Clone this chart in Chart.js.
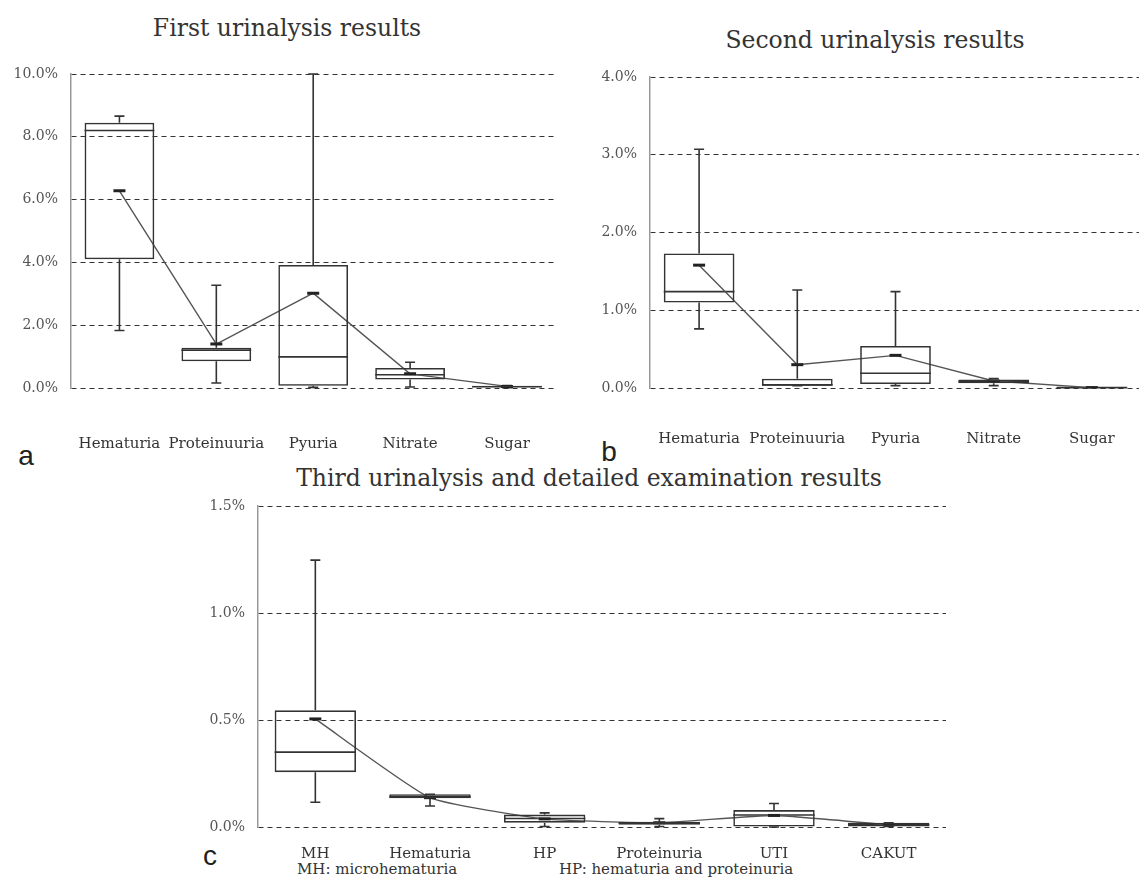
<!DOCTYPE html>
<html>
<head>
<meta charset="utf-8">
<script src="https://cdn.jsdelivr.net/npm/chart.js@4/dist/chart.umd.min.js"></script>
<style>
html, body { margin: 0; padding: 0; background: #fff; overflow: hidden; }
body { position: relative; width: 1139px; height: 877px; }
canvas { position: absolute; }
.title { position: absolute; font-family: 'DejaVu Serif', serif; font-size: 23.5px; color: #333; white-space: nowrap; transform: translate(-50%, -50%); }
.tag { position: absolute; font-family: 'Liberation Sans', Arial, sans-serif; font-size: 28px; color: #222; transform: translate(-50%, -50%); }
.note { position: absolute; font-family: 'DejaVu Serif', serif; font-size: 15px; color: #333; white-space: nowrap; transform: translateY(-50%); }
</style>
</head>
<body>
<div class="title" style="left:287px;top:28px">First urinalysis results</div>
<div class="title" style="left:875px;top:40px">Second urinalysis results</div>
<div class="title" style="left:589px;top:478px">Third urinalysis and detailed examination results</div>
<div class="tag" style="left:26px;top:456px">a</div>
<div class="tag" style="left:609px;top:452px">b</div>
<div class="tag" style="left:210px;top:856px">c</div>
<div class="note" style="left:297px;top:869px">MH: microhematuria</div>
<div class="note" style="left:559px;top:869px">HP: hematuria and proteinuria</div>

<canvas id="chartA" width="570" height="460" style="left:0px;top:0px"></canvas>
<canvas id="chartB" width="580" height="460" style="left:570px;top:0px"></canvas>
<canvas id="chartC" width="770" height="437" style="left:190px;top:440px"></canvas>

<script>
// values in percent
const firstLabels = ['Hematuria', 'Proteinuuria', 'Pyuria', 'Nitrate', 'Sugar'];
const firstMin    = [1.83, 0.16, 0.02, 0.03, 0.01];
const firstQ1     = [4.10, 0.85, 0.07, 0.27, 0.02];
const firstMedian = [8.20, 1.20, 0.99, 0.42, 0.04];
const firstQ3     = [8.45, 1.28, 3.92, 0.64, 0.07];
const firstMax    = [8.66, 3.27, 10.0, 0.82, 0.08];
const firstMean   = [6.28, 1.40, 3.02, 0.45, 0.05];

const secondLabels = ['Hematuria', 'Proteinuuria', 'Pyuria', 'Nitrate', 'Sugar'];
const secondMin    = [0.76, 0.03, 0.03, 0.03, 0.000];
const secondQ1     = [1.10, 0.03, 0.05, 0.06, 0.000];
const secondMedian = [1.24, 0.04, 0.19, 0.08, 0.005];
const secondQ3     = [1.73, 0.12, 0.54, 0.11, 0.010];
const secondMax    = [3.07, 1.26, 1.24, 0.12, 0.010];
const secondMean   = [1.58, 0.30, 0.42, 0.09, 0.005];

const thirdLabels = ['MH', 'Hematuria', 'HP', 'Proteinuria', 'UTI', 'CAKUT'];
const thirdMin    = [0.116, 0.098, 0.002, 0.002, 0.000, 0.002];
const thirdQ1     = [0.256, 0.134, 0.020, 0.010, 0.000, 0.002];
const thirdMedian = [0.350, 0.141, 0.040, 0.018, 0.056, 0.010];
const thirdQ3     = [0.545, 0.153, 0.058, 0.025, 0.079, 0.020];
const thirdMax    = [1.247, 0.153, 0.066, 0.039, 0.110, 0.020];
const thirdMean   = [0.505, 0.137, 0.038, 0.020, 0.054, 0.010];

const INK = '#333';

// whiskers, caps and median lines, placed with the chart's own scales
const boxWhiskers = {
  id: 'boxWhiskers',
  beforeDatasetsDraw(chart, args, opts) {
    const {ctx} = chart;
    const y = chart.scales.y;
    const bars = chart.getDatasetMeta(0).data;
    ctx.save();
    ctx.strokeStyle = INK;
    ctx.lineWidth = 1.6;
    bars.forEach((bar, i) => {
      const x = bar.x;
      const half = bar.width / 2;
      const yMin = y.getPixelForValue(opts.min[i]);
      const yMax = y.getPixelForValue(opts.max[i]);
      const yQ1 = y.getPixelForValue(opts.q1[i]);
      const yQ3 = y.getPixelForValue(opts.q3[i]);
      const yMed = y.getPixelForValue(opts.median[i]);
      ctx.beginPath();
      ctx.moveTo(x, yQ3); ctx.lineTo(x, yMax);
      ctx.moveTo(x - 5, yMax); ctx.lineTo(x + 5, yMax);
      ctx.moveTo(x, yQ1); ctx.lineTo(x, yMin);
      ctx.moveTo(x - 5, yMin); ctx.lineTo(x + 5, yMin);
      ctx.moveTo(x - half, yMed); ctx.lineTo(x + half, yMed);
      ctx.stroke();
    });
    ctx.restore();
  }
};

function makeChart(id, cfg) {
  const {labels, min, q1, median, q3, max, mean} = cfg;
  return new Chart(document.getElementById(id), {
    type: 'bar',
    data: {
      labels,
      datasets: [
        {
          label: 'box',
          data: labels.map((_, i) => [q1[i], q3[i]]),
          backgroundColor: 'rgba(255,255,255,0)',
          borderColor: INK,
          borderWidth: 1.6,
          borderSkipped: false,
          categoryPercentage: cfg.boxWidth,
          barPercentage: 1
        },
        {
          type: 'line',
          label: 'mean',
          data: mean,
          borderColor: '#555',
          borderWidth: 1.4,
          tension: cfg.tension,
          pointStyle: 'line',
          pointRadius: 6,
          pointBorderWidth: 3,
          pointBorderColor: '#222',
          pointHoverRadius: 6
        }
      ]
    },
    plugins: [boxWhiskers],
    options: {
      responsive: false,
      animation: false,
      events: [],
      layout: { padding: cfg.padding },
      plugins: {
        legend: { display: false },
        tooltip: { enabled: false },
        boxWhiskers: { min, q1, median, q3, max }
      },
      scales: {
        x: {
          grid: { display: false },
          border: { display: false },
          afterFit: s => { s.height = cfg.xHeight; },
          ticks: {
            autoSkip: false,
            maxRotation: 0,
            minRotation: 0,
            padding: cfg.xPad,
            color: INK,
            font: { family: 'DejaVu Serif', size: 15 }
          }
        },
        y: {
          min: 0,
          max: cfg.yMax,
          afterFit: s => { s.width = cfg.yWidth; },
          grid: { color: INK, lineWidth: 1, drawTicks: false },
          border: { display: true, color: '#999', width: 1.5, dash: [5, 4] },
          ticks: {
            stepSize: cfg.step,
            padding: 13,
            color: '#555',
            font: { family: 'DejaVu Serif', size: 14 },
            callback: v => v.toFixed(1) + '%'
          }
        }
      }
    }
  });
}

makeChart('chartA', {
  labels: firstLabels, min: firstMin, q1: firstQ1, median: firstMedian,
  q3: firstQ3, max: firstMax, mean: firstMean,
  yMax: 10, step: 2, boxWidth: 0.72, tension: 0,
  padding: { top: 74, right: 12, left: 0, bottom: 0 },
  yWidth: 71, xHeight: 72, xPad: 39
});

makeChart('chartB', {
  labels: secondLabels, min: secondMin, q1: secondQ1, median: secondMedian,
  q3: secondQ3, max: secondMax, mean: secondMean,
  yMax: 4, step: 1, boxWidth: 0.72, tension: 0,
  padding: { top: 77, right: 7, left: 0, bottom: 0 },
  yWidth: 80, xHeight: 72, xPad: 34
});

makeChart('chartC', {
  labels: thirdLabels, min: thirdMin, q1: thirdQ1, median: thirdMedian,
  q3: thirdQ3, max: thirdMax, mean: thirdMean,
  yMax: 1.5, step: 0.5, boxWidth: 0.71, tension: 0.15,
  padding: { top: 66, right: 14, left: 0, bottom: 0 },
  yWidth: 68, xHeight: 50, xPad: 10
});
</script>
</body>
</html>
